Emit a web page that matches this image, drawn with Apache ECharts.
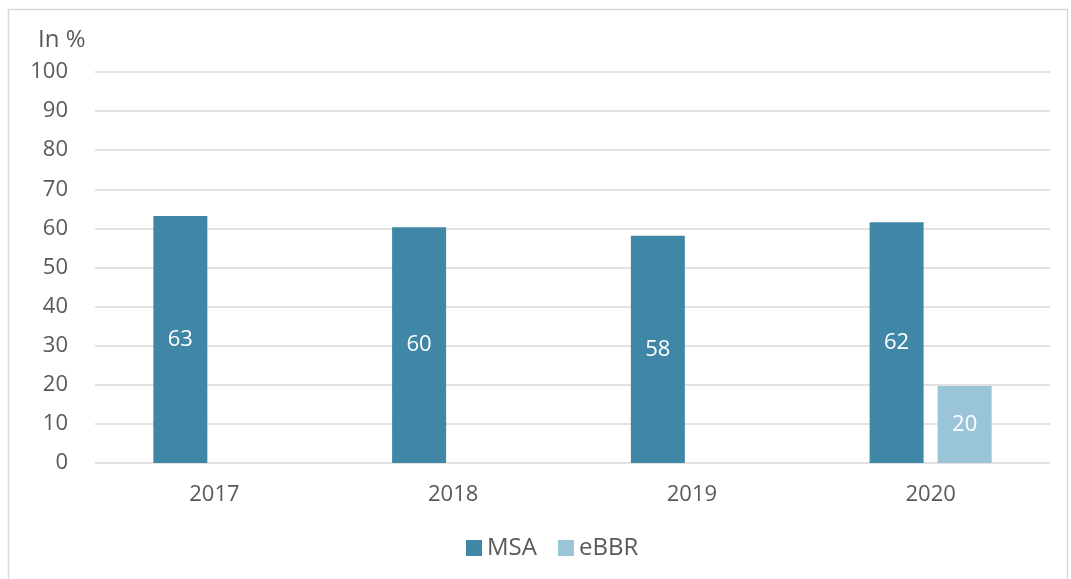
<!DOCTYPE html>
<html><head><meta charset="utf-8">
<script src="https://cdn.jsdelivr.net/npm/echarts@6/dist/echarts.min.js"></script>
<style>html,body{margin:0;padding:0;background:#fff}#c{width:1071px;height:579px}</style>
</head><body><div id="c"></div>
<script>
const categories = ['2017', '2018', '2019', '2020'];
const msaValues = [63.2, 60.3, 58.1, 61.6];
const ebbrValues = [null, null, null, 19.7];
const yTicks = [0, 10, 20, 30, 40, 50, 60, 70, 80, 90, 100];

const chart = echarts.init(document.getElementById('c'));
const font = '"Open Sans", sans-serif';
const fs = 22;
const lbl = {show: true, position: 'inside', color: '#fff', fontFamily: font, fontSize: fs,
  formatter: p => p.value == null ? '' : Math.round(p.value)};
chart.setOption({
  animation: false,
  graphic: [{type: 'rect', shape: {x: 8.5, y: 9.5, width: 1059, height: 600},
    style: {fill: 'none', stroke: '#d9d9d9', lineWidth: 1.5}, silent: true}],
  grid: {left: 95, right: 21, top: 72, bottom: 116, containLabel: false},
  legend: {top: 536, left: 466, padding: 0, itemWidth: 16, itemHeight: 16, itemGap: 21,
    icon: 'rect', textStyle: {fontFamily: font, fontSize: 24, color: '#595959'},
    data: ['MSA', 'eBBR']},
  xAxis: {type: 'category', data: categories,
    axisLine: {show: false}, axisTick: {show: false},
    axisLabel: {fontFamily: font, fontSize: fs, color: '#595959', margin: 21}},
  yAxis: {type: 'value', min: yTicks[0], max: yTicks[yTicks.length - 1], interval: 10,
    name: 'In %', nameLocation: 'end', nameGap: 20,
    nameTextStyle: {fontFamily: font, fontSize: 24, color: '#595959', align: 'left', padding: [0, 0, 0, -57]},
    axisLine: {show: false}, axisTick: {show: false},
    axisLabel: {fontFamily: font, fontSize: fs, color: '#595959', margin: 27},
    splitLine: {lineStyle: {color: '#d9d9d9', width: 1.5}}},
  series: [
    {name: 'MSA', type: 'bar', data: msaValues, barWidth: 54, barGap: '26%',
     itemStyle: {color: '#3f86a7'}, label: lbl},
    {name: 'eBBR', type: 'bar', data: ebbrValues, barWidth: 54,
     itemStyle: {color: '#9ac4d8'}, label: lbl}
  ]
});
</script></body></html>
